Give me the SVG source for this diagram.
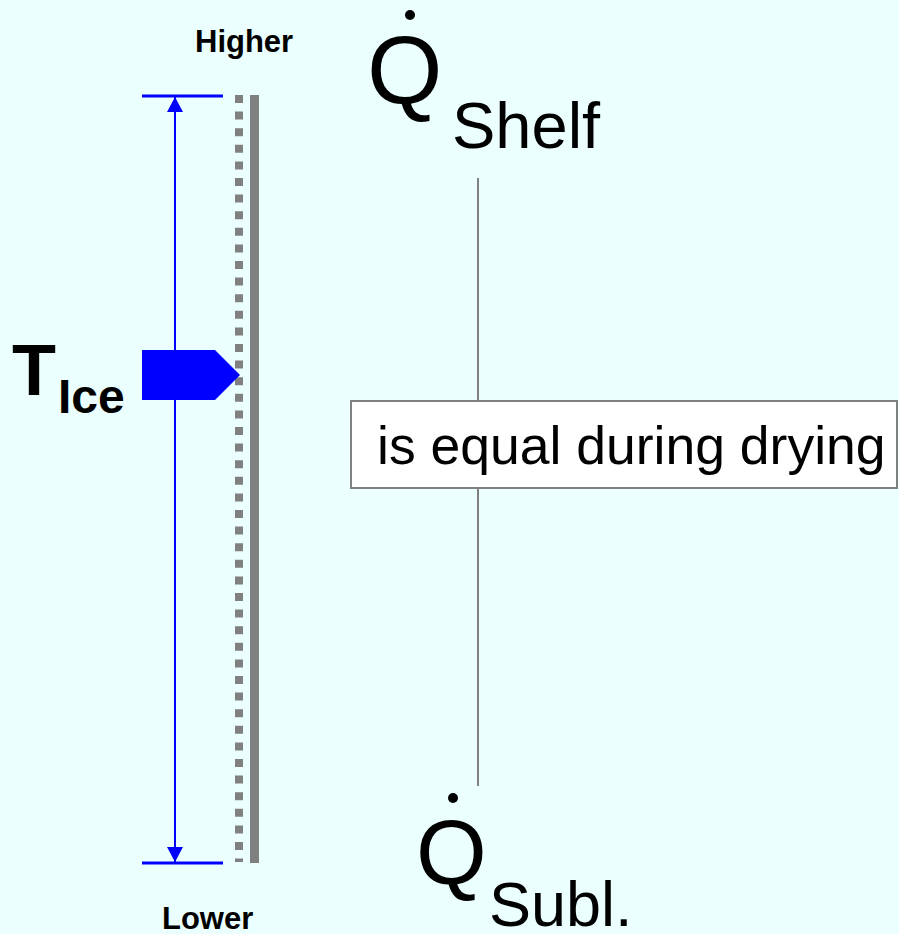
<svg xmlns="http://www.w3.org/2000/svg" width="899" height="934" viewBox="0 0 899 934">
<style>
.b{font-family:"Liberation Sans",Arial,sans-serif;font-weight:bold;fill:#000}
.n{font-family:"Liberation Sans",Arial,sans-serif;fill:#000}
.blue{stroke:#0000FF;fill:none}
.grey{stroke:#808080;fill:none}
</style>
<defs>
<marker id="ah" viewBox="0 0 15 16" refX="15" refY="8" markerWidth="15" markerHeight="16" markerUnits="userSpaceOnUse" orient="auto-start-reverse">
<path d="M0,0 L15,8 L0,16 Z" fill="#0000FF"/>
</marker>
</defs>
<rect width="899" height="934" fill="#EBFFFF"/>
<g id="scale">
<line class="blue" x1="142" y1="96" x2="223" y2="96" stroke-width="3"/>
<line class="blue" x1="142" y1="863" x2="223" y2="863" stroke-width="3"/>
<line class="grey" x1="239" y1="95" x2="239" y2="862" stroke-width="8" stroke-dasharray="8 8.6"/>
<line class="grey" x1="254.5" y1="95" x2="254.5" y2="863" stroke-width="9"/>
<text class="b" x="195" y="52" font-size="31">Higher</text>
<text class="b" x="162" y="929" font-size="31">Lower</text>
</g>
<g id="connectors">
<line class="blue" x1="175" y1="97" x2="175" y2="862" stroke-width="2" marker-start="url(#ah)" marker-end="url(#ah)"/>
<line class="grey" x1="478" y1="178" x2="478" y2="401" stroke-width="2"/>
<line class="grey" x1="478" y1="488" x2="478" y2="786" stroke-width="2"/>
</g>
<g id="tice">
<path d="M142,350 L215,350 L240,375 L215,400 L142,400 Z" fill="#0000FF"/>
<text class="b" x="12" y="395" font-size="72">T</text>
<text class="b" x="58" y="413" font-size="48">Ice</text>
</g>
<g id="qshelf">
<text class="n" x="367" y="104" font-size="97">Q</text>
<circle cx="410" cy="15" r="5" fill="#000"/>
<text class="n" x="452" y="148" font-size="65">Shelf</text>
</g>
<g id="equal">
<rect x="351" y="401" width="546" height="87" fill="#FFFFFF" stroke="#808080" stroke-width="2"/>
<text class="n" x="377" y="464" font-size="53.5">is equal during drying</text>
</g>
<g id="qsubl">
<text class="n" x="416" y="884" font-size="91">Q</text>
<circle cx="453" cy="798" r="5" fill="#000"/>
<text class="n" x="489" y="926" font-size="63">Subl.</text>
</g>
</svg>
